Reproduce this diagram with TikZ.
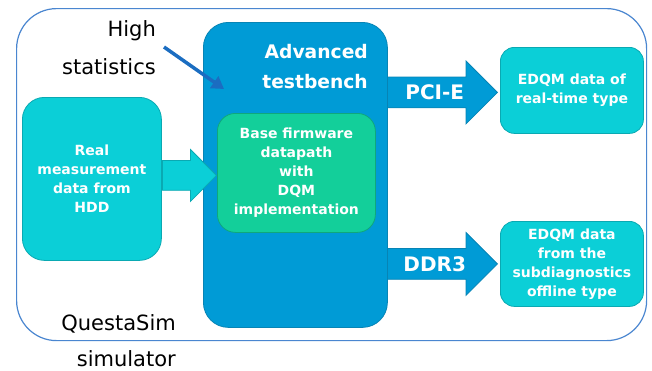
\documentclass[tikz,border=0pt]{standalone}
\usepackage{fontspec}
\setmainfont{DejaVu Sans}
\usetikzlibrary{shapes.arrows,arrows.meta,positioning,calc}
\definecolor{tbblue}{HTML}{009BD6}
\definecolor{tbedge}{HTML}{0784B5}
\definecolor{dqmgreen}{HTML}{13CF9A}
\definecolor{dqmedge}{HTML}{0FA77C}
\definecolor{datacyan}{HTML}{0BCFD7}
\definecolor{dataedge}{HTML}{0AA9B2}
\definecolor{frameblue}{HTML}{4A86D0}
\definecolor{pointblue}{HTML}{1B6DC1}
\tikzset{
    whitebold/.style={text=white, font=\bfseries\fontsize{14}{19}\selectfont, align=center},
    databox/.style={anchor=north west, rectangle, rounded corners=14pt, fill=datacyan, draw=dataedge, line width=0.8pt, whitebold},
    pipe/.style={single arrow, single arrow head extend=16pt, fill=tbblue, draw=tbedge, line width=0.8pt, text=white, font=\bfseries\fontsize{20}{24}\selectfont, text height=15pt, text depth=0pt, inner ysep=7.5pt, inner xsep=4pt, minimum height=110pt},
    plaintext/.style={anchor=north east, inner sep=0pt, align=right, font=\fontsize{21}{38}\selectfont}
}
\begin{document}
\begin{tikzpicture}[x=1pt, y=-1pt]
    \useasboundingbox (0,0) rectangle (652,370);
    \node [anchor=north west, rectangle, rounded corners=40pt, minimum width=630pt, minimum height=332pt, draw=frameblue, line width=1.2pt] (sim) at (16,8) {};
    \node [plaintext, font=\fontsize{21}{36}\selectfont] (simname) at (176,314) {QuestaSim\\simulator};
    \node [anchor=north west, rectangle, rounded corners=25pt, minimum width=184pt, minimum height=305pt, fill=tbblue, draw=tbedge, line width=0.8pt] (tb) at (203,22) {};
    \node [anchor=north east, inner sep=0pt, align=right, text=white, font=\bfseries\fontsize{18.7}{30}\selectfont] (tbname) at (368,44) {Advanced\\testbench};
    \node [anchor=north west, rectangle, rounded corners=18pt, minimum width=158pt, minimum height=119pt, fill=dqmgreen, draw=dqmedge, line width=0.8pt, whitebold] (dqm) at (217,113) {Base firmware\\datapath\\with\\DQM\\implementation};
    \node [databox, minimum width=139pt, minimum height=163pt, rounded corners=22pt] (hdd) at (22,97) {Real\\measurement\\data from\\HDD};
    \node [databox, minimum width=143pt, minimum height=86pt] (rt) at (500,47) {EDQM data of\\real-time type};
    \node [databox, minimum width=143pt, minimum height=85pt] (off) at (500,221) {EDQM data\\from the\\subdiagnostics\\offline type};
    \node [plaintext] (stat) at (156,20) {High\\statistics};
    % block arrows
    \node [single arrow, single arrow head extend=11pt, fill=datacyan, draw=dataedge, line width=0.8pt, inner xsep=0pt, inner ysep=14.5pt, minimum height=54pt, anchor=tip] (feed) at ($(dqm.west)+(0,2.5)$) {};
    \node [pipe, anchor=tip] (pcie) at ($(rt.west)+(-2,2)$) {PCI-E};
    \node [pipe, anchor=tip] (ddr) at ($(off.west)+(-2,0)$) {DDR3};
    \coordinate (statfrom) at (164,47);
    \coordinate (statto) at (224,89);
    \draw [line width=3.5pt, draw=pointblue, -{Triangle[length=12pt, width=14pt]}] (statfrom) -- (statto);
\end{tikzpicture}
\end{document}
